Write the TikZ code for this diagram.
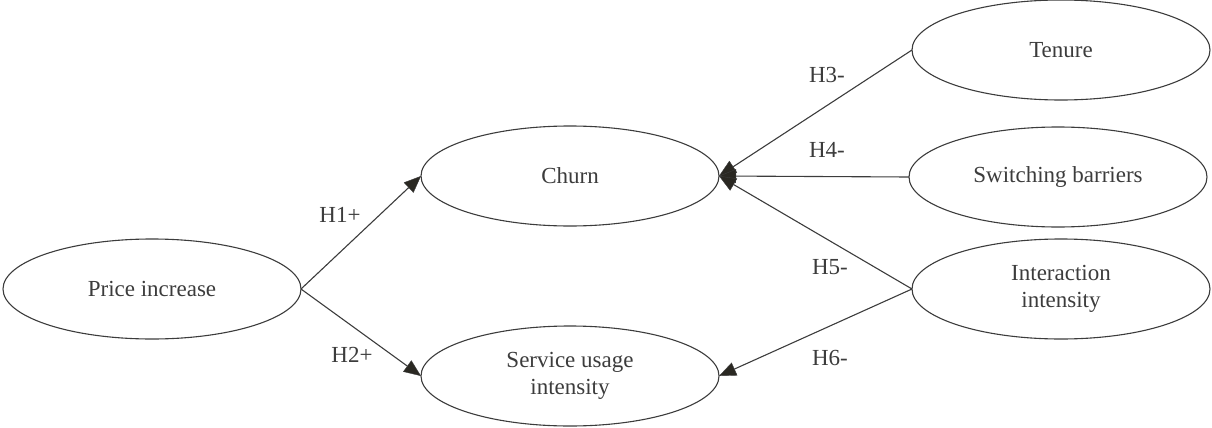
\documentclass[tikz,border=0pt]{standalone}
\usepackage{fontspec}
\setmainfont{Liberation Serif}
\usetikzlibrary{shapes.geometric,arrows.meta}
\definecolor{ink}{HTML}{3C3C3C}
\definecolor{tipfill}{HTML}{2A2822}
\begin{document}
\begin{tikzpicture}[x=1pt,y=-1pt,
  construct/.style={draw=ink, line width=1.1pt, ellipse, minimum width=298pt,
    minimum height=100pt, inner sep=0pt, outer sep=0pt, align=center,
    text=ink, font=\fontsize{23}{27}\selectfont},
  path/.style={draw=ink, line width=1.1pt,
    -{Triangle[length=17pt,width=14pt,fill=tipfill,line width=0.4pt]}},
  hyp/.style={text=ink, font=\fontsize{23}{27}\selectfont, inner sep=0pt}]
  \useasboundingbox (0,0) rectangle (1212,428);

  % constructs
  \node[construct] (price) at (152,289) {Price increase};
  \node[construct] (churn) at (570,176) {Churn};
  \node[construct] (usage) at (570,376) {Service usage\\intensity};
  \node[construct] (tenure) at (1061,50) {Tenure};
  \node[construct] (barriers) at (1058,177) {Switching barriers};
  \node[construct] (interact) at (1061,289) {Interaction\\intensity};

  % hypothesised paths
  \draw[path] (price.east) -- (churn.west);
  \draw[path] (price.east) -- (usage.west);
  \draw[path] (tenure.west) -- (churn.east);
  \draw[path] (barriers.west) -- (churn.east);
  \draw[path] (interact.west) -- (churn.east);
  \draw[path] (interact.west) -- (usage.east);

  % path labels
  \node[hyp] (h1) at (340,215) {H1+};
  \node[hyp] (h2) at (352,355) {H2+};
  \node[hyp] (h3) at (827,75) {H3-};
  \node[hyp] (h4) at (827,150) {H4-};
  \node[hyp] (h5) at (830,267) {H5-};
  \node[hyp] (h6) at (830,358) {H6-};
\end{tikzpicture}
\end{document}
